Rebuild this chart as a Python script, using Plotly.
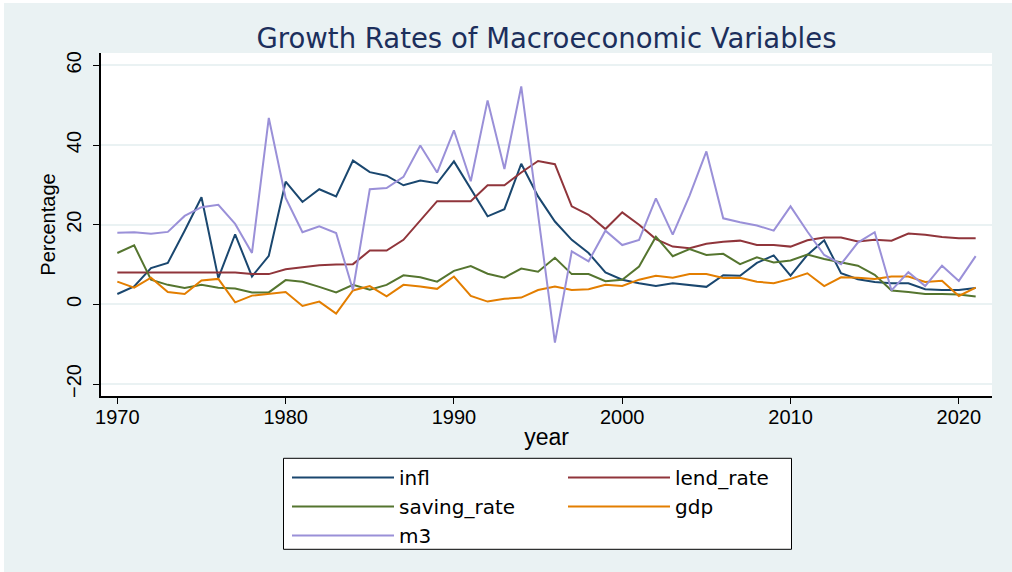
import plotly.graph_objects as go

years = list(range(1970, 2022))

infl = [2.6, 4.5, 9.1, 10.4, 18.5, 26.9, 6.6, 17.6, 7.0, 12.2,
        30.8, 25.7, 28.9, 27.1, 36.1, 33.2, 32.3, 29.9, 31.1, 30.4,
        35.9, 29.0, 22.1, 23.9, 35.3, 27.1, 20.8, 16.2, 12.9, 8.0,
        6.2, 5.3, 4.6, 5.3, 4.8, 4.4, 7.3, 7.2, 10.4, 12.3,
        7.2, 12.4, 16.1, 7.8, 6.3, 5.6, 5.3, 5.3, 3.8, 3.6,
        3.6, 4.1]

lend_rate = [8.0, 8.0, 8.0, 8.0, 8.0, 8.0, 8.0, 8.0, 7.6, 7.6,
             8.8, 9.3, 9.8, 10.0, 10.1, 13.5, 13.5, 16.2, 21.1, 25.9,
             25.9, 25.9, 29.9, 29.9, 33.1, 36.0, 35.2, 24.6, 22.5, 18.9,
             23.1, 20.0, 16.4, 14.5, 14.1, 15.2, 15.7, 16.0, 14.9, 14.9,
             14.5, 16.1, 16.8, 16.8, 15.8, 16.2, 16.0, 17.8, 17.5, 16.9,
             16.6, 16.6]

saving_rate = [12.9, 14.8, 6.2, 4.9, 4.1, 4.9, 4.2, 4.0, 3.0, 3.0,
               6.1, 5.7, 4.4, 3.0, 4.9, 3.7, 4.9, 7.3, 6.8, 5.7,
               8.4, 9.6, 7.7, 6.7, 9.0, 8.2, 11.7, 7.6, 7.6, 5.8,
               6.2, 9.5, 17.0, 12.1, 13.9, 12.4, 12.7, 10.1, 11.8, 10.5,
               11.0, 12.5, 11.4, 10.6, 9.7, 7.4, 3.5, 3.1, 2.6, 2.6,
               2.5, 2.0]

gdp = [5.7, 4.2, 6.7, 3.1, 2.6, 6.0, 6.4, 0.5, 2.2, 2.6,
       3.1, -0.4, 0.7, -2.3, 3.5, 4.6, 2.0, 4.9, 4.5, 3.9,
       7.0, 2.1, 0.7, 1.4, 1.7, 3.6, 4.5, 3.6, 3.8, 4.9,
       4.6, 6.2, 7.2, 6.7, 7.6, 7.6, 6.6, 6.7, 5.7, 5.3,
       6.4, 7.8, 4.6, 6.8, 6.7, 6.4, 7.0, 7.0, 5.6, 5.9,
       2.1, 4.2]

m3 = [18.0, 18.1, 17.7, 18.2, 22.2, 24.4, 25.0, 20.2, 12.9, 46.8,
      26.7, 18.1, 19.6, 17.9, 3.6, 28.9, 29.2, 32.0, 39.9, 33.1,
      43.7, 30.9, 51.2, 34.0, 54.7, 22.5, -9.6, 13.3, 10.8, 18.5,
      14.9, 16.2, 26.6, 17.5, 27.3, 38.4, 21.6, 20.6, 19.8, 18.5,
      24.6, 18.3, 12.4, 10.1, 15.5, 18.1, 3.5, 8.1, 4.6, 9.7,
      5.9, 12.1]

series = [
    ("infl", infl, "#1a476f", "legend"),
    ("lend_rate", lend_rate, "#90353b", "legend2"),
    ("saving_rate", saving_rate, "#55752f", "legend"),
    ("gdp", gdp, "#e37e00", "legend2"),
    ("m3", m3, "#9a90d8", "legend"),
]

x_ticks = [1970, 1980, 1990, 2000, 2010, 2020]
y_ticks = [-20, 0, 20, 40, 60]

BG = "#eaf2f3"

fig = go.Figure()
for name, vals, color, lg in series:
    fig.add_trace(go.Scatter(x=years, y=vals, mode="lines", name=name,
                             line=dict(color=color, width=2), legend=lg))

W, H = 1012, 572
L, R, T, B = 101, 20, 53, 176
pw, ph = W - L - R, H - T - B

def px_x(p):
    return (p - L) / pw

def px_y(p):
    return (H - B - p) / ph

legend_font = dict(family="DejaVu Sans", size=20, color="black")

fig.update_layout(
    width=W, height=H,
    margin=dict(l=L, r=R, t=T, b=B, autoexpand=False),
    paper_bgcolor=BG,
    plot_bgcolor="white",
    title=dict(text="Growth Rates of Macroeconomic Variables",
               x=px_x(546.5), xref="paper", xanchor="center",
               y=1 - 38 / H, yref="container", yanchor="middle",
               font=dict(family="DejaVu Sans", size=27.5, color="#1c2f5c")),
    xaxis=dict(range=[1969.03, 2021.97], tickvals=x_ticks,
               ticks="outside", ticklen=6, tickwidth=1, tickcolor="black",
               showline=True, linecolor="black", linewidth=1.5,
               showgrid=False, zeroline=False, ticklabelstandoff=-4,
               tickfont=dict(family="Liberation Sans", size=20, color="black"),
               title=dict(text="year", standoff=2,
                          font=dict(family="Liberation Sans", size=23, color="black"))),
    yaxis=dict(range=[-23.0, 63.1], tickvals=y_ticks,
               ticks="outside", ticklen=6, tickwidth=1, tickcolor="black",
               showline=True, linecolor="black", linewidth=1.5,
               showgrid=True, gridcolor=BG, gridwidth=2, zeroline=False,
               tickangle=-90, ticklabelstandoff=4,
               tickfont=dict(family="Liberation Sans", size=20, color="black"),
               title=dict(text="Percentage", standoff=2,
                          font=dict(family="Liberation Sans", size=20, color="black"))),
    legend=dict(x=px_x(287), y=px_y(458), xanchor="left", yanchor="top",
                orientation="v", bgcolor="rgba(0,0,0,0)", borderwidth=0,
                itemwidth=102, font=legend_font, tracegroupgap=0),
    legend2=dict(x=px_x(563), y=px_y(458), xanchor="left", yanchor="top",
                 orientation="v", bgcolor="rgba(0,0,0,0)", borderwidth=0,
                 itemwidth=102, font=legend_font, tracegroupgap=0),
    showlegend=True,
    shapes=[
        dict(type="rect", xref="paper", yref="paper",
             x0=px_x(283.5), x1=px_x(791.5), y0=px_y(549.3), y1=px_y(458.3),
             line=dict(color="black", width=1), fillcolor="white", layer="below"),
        dict(type="rect", xref="paper", yref="paper",
             x0=px_x(0), x1=px_x(W), y0=px_y(3), y1=px_y(0),
             line=dict(width=0), fillcolor="white", layer="below"),
        dict(type="rect", xref="paper", yref="paper",
             x0=px_x(0), x1=px_x(4), y0=px_y(H), y1=px_y(0),
             line=dict(width=0), fillcolor="white", layer="below"),
    ],
)

fig.write_html("out.html", config={"displayModeBar": False},
               post_script="document.body.style.margin='0';document.body.style.overflow='hidden';")
